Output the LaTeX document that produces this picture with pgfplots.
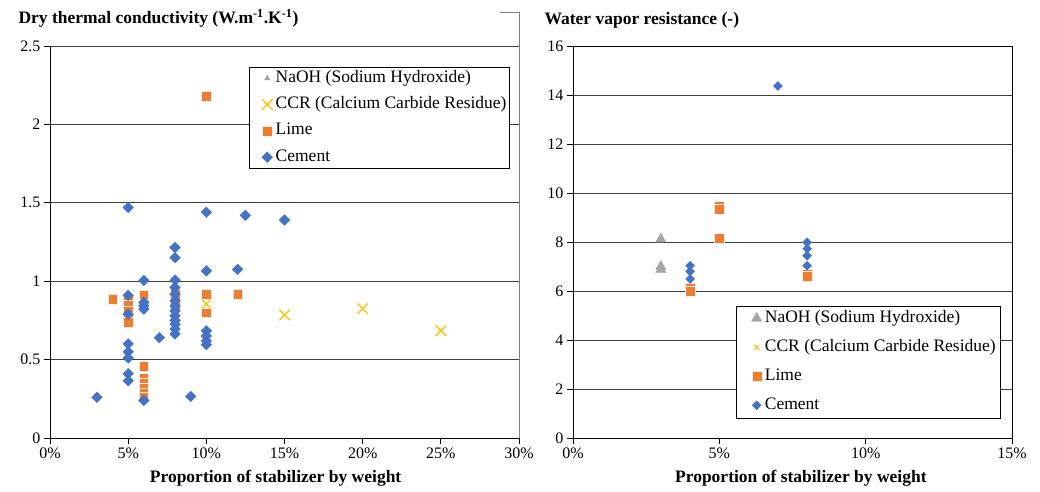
\documentclass[border=0pt]{standalone}
\usepackage{pgfplots}
\pgfplotsset{compat=1.18}
\usepackage{fontspec}
\setmainfont{Liberation Serif}
\definecolor{cem}{RGB}{68,114,196}
\definecolor{lim}{RGB}{237,125,49}
\definecolor{ccr}{RGB}{255,192,0}
\definecolor{naoh}{RGB}{165,165,165}
\pgfplotsset{
  limg/.style 2 args={legend image code/.code={\path[draw=none,fill=none] (-#1,0pt) -- (#2,0pt); \draw[##1] plot coordinates {(0pt,0pt)};}},
  common/.style={
    scale only axis, anchor=south west,
    tick align=outside, major tick length=6pt,
    tick style={black, line width=0.9pt},
    ymajorgrids, grid style={black!75, line width=0.9pt},
    tick label style={font=\fontsize{16}{16}\selectfont},
    /pgf/number format/assume math mode=true,
    xticklabel={\pgfmathprintnumber{\tick}\%},
    xlabel={Proportion of stabilizer by weight},
    legend cell align=left,
  }
}
\begin{document}
\begin{tikzpicture}
\path (0pt,0pt) rectangle (1040pt,491pt);
% left chart
\begin{axis}[common,
  at={(50pt,53pt)}, width=469pt, height=392pt,
  xmin=0, xmax=30, ymin=0, ymax=2.5,
  xtick={0,5,...,30}, ytick={0,0.5,1,1.5,2,2.5},
  axis x line*=bottom, axis y line*=left,
  axis line style={black, line width=0.9pt, -},
  xlabel style={at={(axis description cs:0.481,0)}, anchor=center, yshift=-40pt, font=\bfseries\fontsize{17.5}{20}\selectfont},
  legend style={at={(0.4243,0.9464)}, anchor=north west, draw=black, line width=0.6pt, fill=white,
    font=\fontsize{17.5}{20}\selectfont, inner sep=2pt, row sep=8.3pt,
    nodes={inner sep=1pt, text height=12pt, text depth=4pt},
    /tikz/every odd column/.style={column sep=2pt}},
]
\addlegendimage{only marks, mark=triangle*, mark size=3pt, color=naoh, limg={16pt}{5pt}}
\addlegendentry{NaOH (Sodium Hydroxide)}
\addplot[only marks, mark=x, mark size=7.5pt, color=ccr, line width=1.3pt, limg={16pt}{5pt}] coordinates {
(10,0.855) (15,0.785) (20,0.825) (25,0.684)};
\addlegendentry{CCR (Calcium Carbide Residue)}
\addplot[only marks, mark=square*, mark size=4.8pt, color=lim, mark options={line width=0.3pt, draw=white!85!lim}, limg={16pt}{5pt}] coordinates {
(4,0.885) (5,0.88) (5,0.85) (5,0.81) (5,0.77) (5,0.74)
(6,0.914) (6,0.458) (6,0.38) (6,0.35) (6,0.32) (6,0.29) (6,0.26)
(8,0.92) (8,0.88) (8,0.84)
(10,2.18) (10,0.917) (10,0.80) (12,0.917)};
\addlegendentry{Lime}
\addplot[only marks, mark=square*, mark size=3.8pt, color=cem, mark options={rotate=45, line width=0.3pt}, limg={16pt}{5pt}] coordinates {
(3,0.26)
(5,1.47) (5,0.91) (5,0.79) (5,0.60) (5,0.55) (5,0.51) (5,0.41) (5,0.365)
(6,1.005) (6,0.865) (6,0.843) (6,0.822) (6,0.24)
(7,0.64)
(8,1.215) (8,1.15) (8,1.007) (8,0.96) (8,0.917) (8,0.875) (8,0.843) (8,0.81) (8,0.78) (8,0.75) (8,0.726) (8,0.695) (8,0.663)
(9,0.265)
(10,1.44) (10,1.066) (10,0.683) (10,0.651) (10,0.619) (10,0.595)
(12,1.076) (12.5,1.42) (15,1.39)};
\addlegendentry{Cement}
\end{axis}
\draw[black!50, line width=1pt] (500pt,478pt) -- (519pt,478pt) -- (519pt,53pt);
\node[anchor=west, font=\bfseries\fontsize{17.5}{20}\selectfont] at (15pt,473pt) {Dry thermal conductivity (W.m\textsuperscript{-1}.K\textsuperscript{-1})};
% right chart
\begin{axis}[common,
  at={(573pt,53pt)}, width=439pt, height=392pt,
  xmin=0, xmax=15, ymin=0, ymax=16,
  xtick={0,5,10,15}, ytick={0,2,...,16},
  xtick pos=bottom, ytick pos=left,
  axis line style={black, line width=0.9pt},
  xlabel style={at={(axis description cs:0.519,0)}, anchor=center, yshift=-40pt, font=\bfseries\fontsize{17.5}{20}\selectfont},
  legend style={at={(0.371,0.338)}, anchor=north west, draw=black, line width=0.6pt, fill=white,
    font=\fontsize{17.5}{20}\selectfont, inner sep=3.5pt, row sep=11pt,
    nodes={inner sep=1pt, text height=12pt, text depth=4pt},
    /tikz/every odd column/.style={column sep=2pt}},
]
\addplot[only marks, mark=triangle*, mark size=6pt, color=naoh, mark options={line width=0.3pt}, limg={17pt}{4pt}] coordinates {
(3,8.12) (3,7.0) (3,6.87)};
\addlegendentry{NaOH (Sodium Hydroxide)}
\addlegendimage{only marks, mark=x, mark size=3.6pt, color=ccr, line width=1pt, limg={17pt}{4pt}}
\addlegendentry{CCR (Calcium Carbide Residue)}
\addplot[only marks, mark=square*, mark size=5pt, color=lim, mark options={line width=0.3pt, draw=white!85!lim}, limg={17pt}{4pt}] coordinates {
(4,6.1) (4,6.0) (5,9.45) (5,9.35) (5,8.15) (8,6.7) (8,6.62)};
\addlegendentry{Lime}
\addplot[only marks, mark=square*, mark size=3.2pt, color=cem, mark options={rotate=45, line width=0.3pt}, limg={17pt}{4pt}] coordinates {
(4,7.03) (4,6.80) (4,6.49) (7,14.37) (8,7.99) (8,7.72) (8,7.44) (8,7.03)};
\addlegendentry{Cement}
\end{axis}
\node[anchor=west, font=\bfseries\fontsize{17.5}{20}\selectfont] at (541pt,471pt) {Water vapor resistance (-)};
\end{tikzpicture}
\end{document}
